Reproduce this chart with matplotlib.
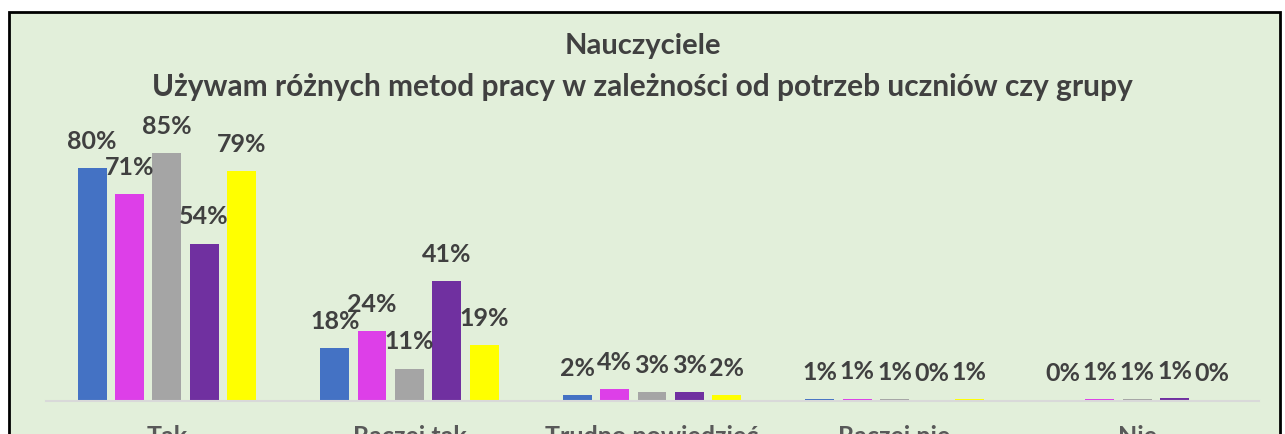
import matplotlib.pyplot as plt
from matplotlib.patches import Rectangle

categories = ["Tak", "Raczej tak", "Trudno powiedzieć", "Raczej nie", "Nie"]
blue = [80, 18, 2, 0.6, 0]
magenta = [71, 24, 4, 0.7, 0.6]
gray = [85, 11, 3, 0.6, 0.6]
purple = [54, 41, 3, 0, 0.8]
yellow = [79, 19, 2, 0.6, 0]

series = [blue, magenta, gray, purple, yellow]
colors = ["#4472C4", "#DD3FE8", "#A5A5A5", "#7030A0", "#FFFF00"]

plt.rcParams['font.family'] = ['Lato', 'DejaVu Sans']

fig = plt.figure(figsize=(12.85, 4.35), dpi=100)
fig.patch.set_facecolor("white")

# chart area with black frame (bottom is cut off)
fig.patches.append(Rectangle((9 / 1285, -0.1), 1271 / 1285, 1.1 - 13 / 435,
                             transform=fig.transFigure, facecolor="#E2EFDA",
                             edgecolor="black", linewidth=2, zorder=-1))

ax = fig.add_axes([45.5 / 1285, 33.3 / 435, 1213 / 1285, 291 / 435])
ax.set_facecolor("none")

step = 0.154
width = 0.119
for j, (vals, c) in enumerate(zip(series, colors)):
    xs = [i + (j - 2) * step for i in range(len(categories))]
    ax.bar(xs, vals, width=width, color=c, zorder=2)
    for x, v in zip(xs, vals):
        ax.annotate(f"{v:.0f}%", (x, v), xytext=(0, 20), textcoords="offset points",
                    ha="center", va="center", fontsize=18, fontweight="bold",
                    color="#404040")

ax.set_xlim(-0.5, len(categories) - 0.5)
ax.set_ylim(0, 100)
ax.set_yticks([])
ax.set_xticks(range(len(categories)))
ax.set_xticklabels(categories, fontsize=18, fontweight="bold", color="#595959")
ax.tick_params(axis="x", length=0, pad=17)
for s in ["top", "left", "right"]:
    ax.spines[s].set_visible(False)
ax.spines["bottom"].set_color("#D9D9D9")
ax.spines["bottom"].set_linewidth(1.5)

fig.text(0.5, 1 - 46 / 435, "Nauczyciele", ha="center", va="center",
         fontsize=21, fontweight="bold", color="#404040")
fig.text(0.5, 1 - 87 / 435,
         "Używam różnych metod pracy w zależności od potrzeb uczniów czy grupy",
         ha="center", va="center", fontsize=21.5, fontweight="bold", color="#404040")

fig.savefig("out.png", dpi=100)
